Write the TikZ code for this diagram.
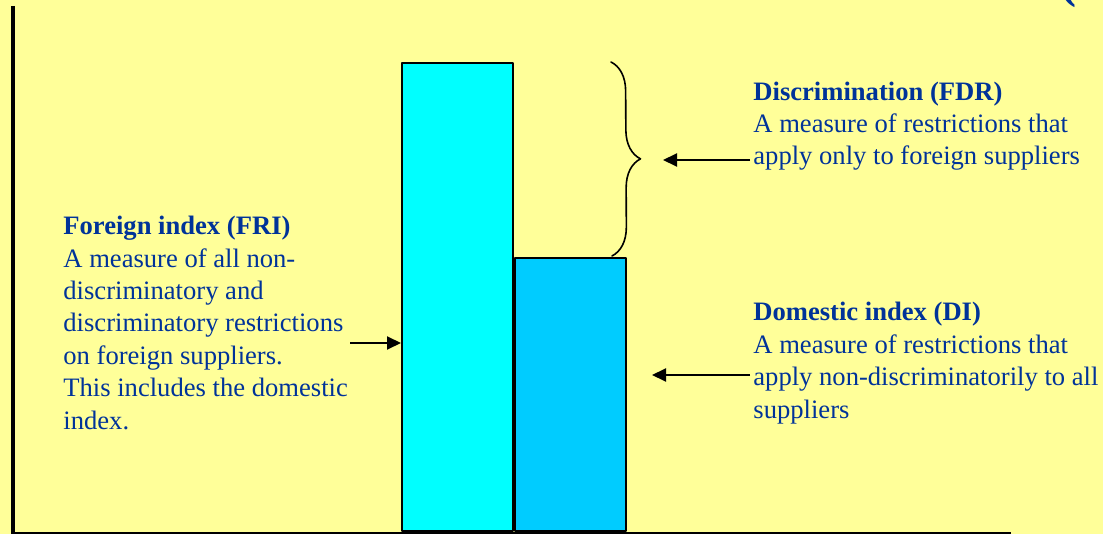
\documentclass[tikz,border=0pt]{standalone}
\usepackage{fontspec}
\setmainfont{Liberation Serif}
\usetikzlibrary{arrows.meta,decorations.pathreplacing}
\definecolor{paper}{HTML}{FFFF99}
\definecolor{ink}{HTML}{003399}
\definecolor{barfri}{HTML}{00FFFF}
\definecolor{bardi}{HTML}{00CCFF}
\begin{document}
\begin{tikzpicture}[line join=round,>={Triangle[length=7pt,width=6.5pt]},x=0.5pt,y=-0.5pt]
	\tikzset{every node/.style={inner sep=0pt,text=ink,align=left,font=\fontsize{13.3}{16.2}\selectfont}}
	\tikzset{bar/.style={draw=black,line width=0.9pt,minimum width=55.5pt,anchor=north west}}
	\tikzset{pointer/.style={->,line width=1pt}}
	\fill[paper] (0,0) rectangle (1103,534);
	\useasboundingbox (0,0) rectangle (1103,534);
	\draw[line width=2pt] (13,6) -- (13,534);
	\draw[line width=1pt] (12,533) -- (1011,533);
	\node[bar,fill=barfri,minimum height=234pt] (fri) at (401,62) {};
	\node[bar,fill=bardi,minimum height=136.5pt] (di) at (514,257) {};
	\coordinate (bracetop) at (611,62);
	\coordinate (bracebot) at (612,256);
	\draw[decorate,decoration={brace,amplitude=14.5pt},line width=0.8pt,line cap=round] (bracetop) -- (bracebot);
	\node[anchor=base west] (fdrtext) at (753,165) {\textbf{Discrimination (FDR)}\\A measure of restrictions that\\apply only to foreign suppliers};
	\node[anchor=base west] (fritext) at (63,429) {\textbf{Foreign index (FRI)}\\A measure of all non-\\discriminatory and\\discriminatory restrictions\\on foreign suppliers.\\This includes the domestic\\index.};
	\node[anchor=base west] (ditext) at (753,418) {\textbf{Domestic index (DI)}\\A measure of restrictions that\\apply non-discriminatorily to all\\suppliers};
	\node[anchor=south,font=\fontsize{24}{28}\selectfont\bfseries] (paren) at (1068,8) {(};
	\coordinate (fdrtip) at (663,160);
	\coordinate (fristart) at (350,343);
	\coordinate (ditip) at (652,375);
	\draw[pointer] ([xshift=-1.5pt]fdrtip -| fdrtext.west) -- (fdrtip);
	\draw[pointer] (fristart) -- (fristart -| fri.west);
	\draw[pointer] ([xshift=-1.5pt]ditip -| ditext.west) -- (ditip);
\end{tikzpicture}
\end{document}
